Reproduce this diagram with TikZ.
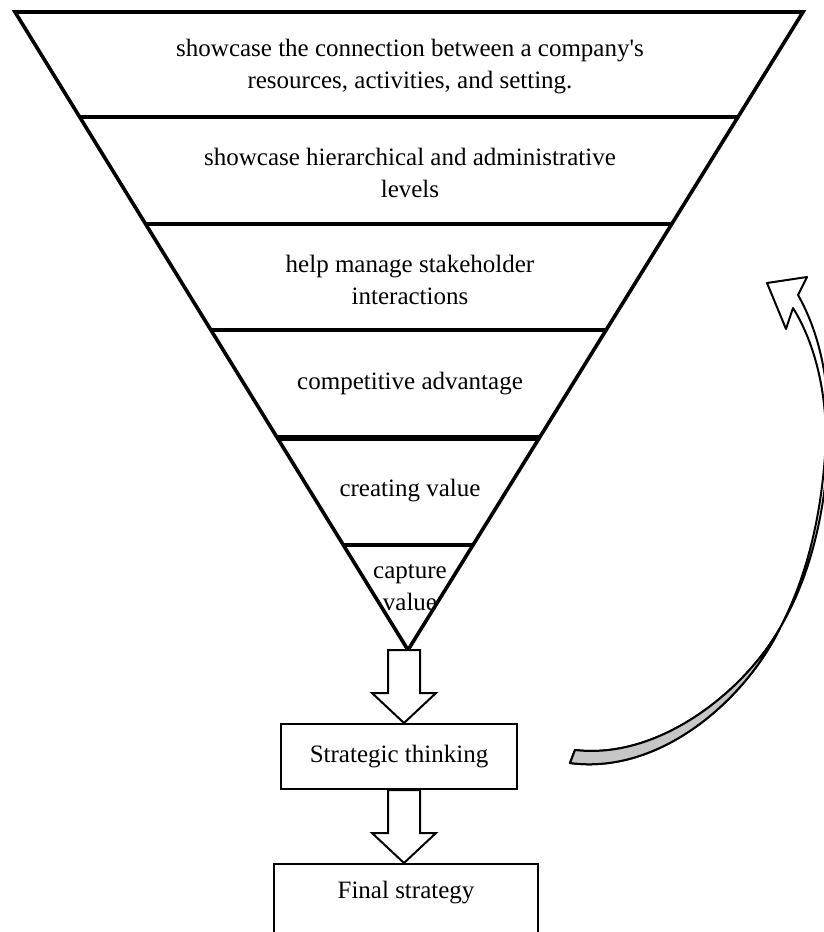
\documentclass[tikz,border=0pt]{standalone}
\usepackage{fontspec}
\setmainfont{Liberation Serif}
\usetikzlibrary{calc,positioning}

\newcommand{\blockarrow}[2]{%
  \draw[blk] let \p1=(#1), \p2=(#2) in
    (\x1-8pt,\y1) -- (\x1-8pt,\y2+15pt) -- (\x1-16pt,\y2+15pt) -- (\x1,\y2)
    -- (\x1+16pt,\y2+15pt) -- (\x1+8pt,\y2+15pt) -- (\x1+8pt,\y1) -- cycle;}

\begin{document}
\begin{tikzpicture}[
  x=0.5pt, y=-0.5pt,
  band/.style={font=\fontsize{12.5}{16}\selectfont, align=center},
  box/.style={draw, line width=1pt, font=\fontsize{12.5}{16}\selectfont,
              minimum width=118pt, minimum height=32.5pt},
  blk/.style={draw, line width=1pt, fill=white, line join=miter},
  edge/.style={line width=1.8pt, line join=miter}
]
  \useasboundingbox (0,0) rectangle (824,932);
  \clip (0,0) rectangle (824,932);

  \coordinate (tl) at (15,12);
  \coordinate (tr) at (803,12);
  \coordinate (apex) at (408,650);
  \draw[edge] (tl) -- (tr) -- (apex) -- cycle;
  \foreach \y/\w in {117/1.8, 224/1.8, 330/1.8, 438/3, 545/1.8}
    \draw[line width=\w pt] ($(tl)!{(\y-12)/638}!(apex)$) -- ($(tr)!{(\y-12)/638}!(apex)$);

  \node[band] (lvl1) at (410,67) {showcase the connection between a company\textquotesingle s\\resources, activities, and setting.};
  \node[band] (lvl2) at (410,173) {showcase hierarchical and administrative\\levels};
  \node[band] (lvl3) at (410,280) {help manage stakeholder\\interactions};
  \node[band] (lvl4) at (410,384) {competitive advantage};
  \node[band] (lvl5) at (410,491) {creating value};
  \node[band] (lvl6) at (410,588) {capture\\value};

  \node[box] (think) at (399,756.5) {Strategic thinking};
  \node[box, anchor=north, minimum width=132pt, text height=9pt, text depth=30pt,
        inner ysep=8pt] (final) at (406,863) {Final strategy};

  \coordinate (t1) at (404,650);
  \blockarrow{t1}{t1 |- think.north}
  \blockarrow{t1 |- think.south}{t1 |- final.north}

  \begin{scope}[line width=1pt, line join=round]
    \draw[fill=white] (570,763) .. controls (660,775) and (745,700) .. (780,628)
      .. controls (807,582) and (825,522) .. (829,440)
      .. controls (830,370) and (815,325) .. (798,295)
      -- (807,277) -- (767,283) -- (786,329) -- (793,308)
      .. controls (810,335) and (826,380) .. (826,440)
      .. controls (822,520) and (805,580) .. (780,628)
      .. controls (745,690) and (660,760) .. (575,750) -- cycle;
    \draw[fill=gray!45] (570,763) .. controls (660,775) and (745,700) .. (780,628)
      .. controls (745,690) and (660,760) .. (575,750) -- cycle;
  \end{scope}
\end{tikzpicture}
\end{document}
